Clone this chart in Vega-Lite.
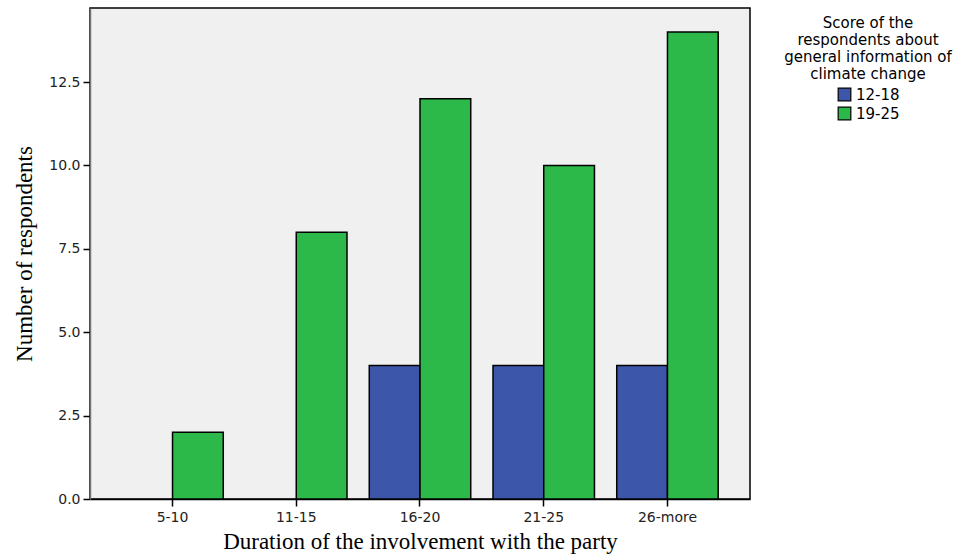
{
  "$schema": "https://vega.github.io/schema/vega-lite/v6.json",
  "autosize": "none",
  "width": 660,
  "height": 491,
  "padding": {"left": 90, "top": 8, "right": 228, "bottom": 58},
  "background": "white",
  "config": {
    "view": {"fill": "#f0f0f0", "stroke": "#000000", "strokeWidth": 1.5},
    "axis": {"grid": false}
  },
  "data": {
    "values": [
      {"duration": "5-10", "score": "19-25", "count": 2},
      {"duration": "11-15", "score": "19-25", "count": 8},
      {"duration": "16-20", "score": "12-18", "count": 4},
      {"duration": "16-20", "score": "19-25", "count": 12},
      {"duration": "21-25", "score": "12-18", "count": 4},
      {"duration": "21-25", "score": "19-25", "count": 10},
      {"duration": "26-more", "score": "12-18", "count": 4},
      {"duration": "26-more", "score": "19-25", "count": 14}
    ]
  },
  "mark": {"type": "bar", "stroke": "#000000", "strokeWidth": 1.5},
  "encoding": {
    "x": {
      "field": "duration",
      "type": "nominal",
      "sort": ["5-10", "11-15", "16-20", "21-25", "26-more"],
      "scale": {"paddingInner": 0.18, "paddingOuter": 0.257},
      "axis": {
        "title": "Duration of the involvement with the party",
        "titleFont": "Liberation Serif",
        "titleFontSize": 23,
        "titleFontWeight": "normal",
        "titleColor": "#000000",
        "titlePadding": 6,
        "labelAngle": 0,
        "labelFont": "DejaVu Sans",
        "labelFontSize": 14,
        "labelColor": "#222222",
        "labelPadding": 4,
        "tickColor": "#000000",
        "tickSize": 7,
        "tickWidth": 1.5,
        "domainColor": "#000000",
        "domainWidth": 1.5
      }
    },
    "xOffset": {"field": "score", "type": "nominal", "sort": ["12-18", "19-25"], "scale": {"domain": ["12-18", "19-25"]}},
    "y": {
      "field": "count",
      "type": "quantitative",
      "scale": {"domain": [0, 14.72], "nice": false},
      "axis": {
        "title": "Number of respondents",
        "values": [0, 2.5, 5, 7.5, 10, 12.5],
        "format": ".1f",
        "titleFont": "Liberation Serif",
        "titleFontSize": 23,
        "titleFontWeight": "normal",
        "titleColor": "#000000",
        "titlePadding": 12,
        "labelFont": "DejaVu Sans",
        "labelFontSize": 14,
        "labelColor": "#222222",
        "labelPadding": 3,
        "tickColor": "#000000",
        "tickSize": 7,
        "tickWidth": 1.5,
        "domainColor": "#777777",
        "domainWidth": 1.5
      }
    },
    "color": {
      "field": "score",
      "type": "nominal",
      "scale": {"domain": ["12-18", "19-25"], "range": ["#3c56aa", "#2db84a"]},
      "legend": {
        "title": ["Score of the", "respondents about", "general information of", "climate change"],
        "orient": "none",
        "legendX": 694,
        "legendY": 8,
        "titleFont": "DejaVu Sans",
        "titleFontSize": 15,
        "titleFontWeight": "normal",
        "titleColor": "#000000",
        "titleAlign": "center",
        "titleAnchor": "middle",
        "titleLineHeight": 17,
        "titlePadding": 5,
        "labelFont": "DejaVu Sans",
        "labelFontSize": 15,
        "labelColor": "#000000",
        "labelOffset": 4,
        "symbolType": "square",
        "symbolSize": 160,
        "symbolStrokeColor": "#000000",
        "symbolStrokeWidth": 1.2,
        "rowPadding": 0
      }
    }
  }
}
